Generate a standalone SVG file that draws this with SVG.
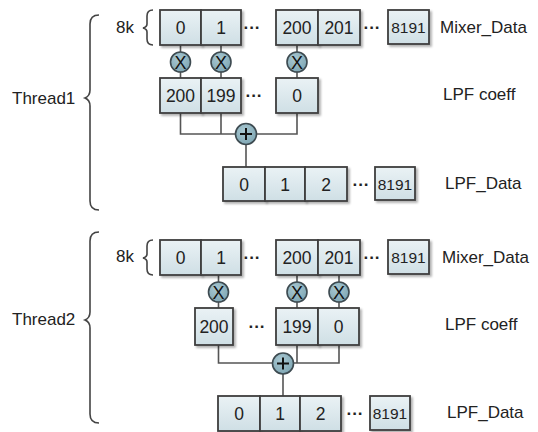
<svg xmlns="http://www.w3.org/2000/svg" width="538" height="432" viewBox="0 0 538 432">
<defs>
<linearGradient id="bg" x1="0" y1="0" x2="0" y2="1">
<stop offset="0" stop-color="#eaf2f5"/>
<stop offset="1" stop-color="#cfdfe5"/>
</linearGradient>
<radialGradient id="cg" cx="0.4" cy="0.35" r="0.7">
<stop offset="0" stop-color="#a9c8d2"/>
<stop offset="1" stop-color="#7ea6b3"/>
</radialGradient>
<filter id="sh" x="-20%" y="-20%" width="140%" height="140%">
<feDropShadow dx="2" dy="2" stdDeviation="1.2" flood-color="#000" flood-opacity="0.3"/>
</filter>
</defs>
<style>
text{font-family:"Liberation Sans",Arial,sans-serif;fill:#222}
.b{fill:url(#bg);stroke:#3f3f3f;stroke-width:1.8;filter:url(#sh)}
.n{font-size:17.5px;text-anchor:middle;dominant-baseline:central}
.s{font-size:15.5px;text-anchor:middle;dominant-baseline:central}
.l{font-size:17px;dominant-baseline:central}
.c{fill:url(#cg);stroke:#3d4a50;stroke-width:1.6}
.w{fill:none;stroke:#555;stroke-width:1.6}
.br{fill:none;stroke:#444;stroke-width:1.6}
.dot{font-size:17px;font-weight:bold;text-anchor:middle;dominant-baseline:central}
.op{font-family:"Liberation Sans",Arial,sans-serif;font-size:18px;text-anchor:middle;dominant-baseline:central;fill:#111}
</style>

<g id="connectors">
<path class="w" d="M180.5 45V78M221 45V78M297 45V78"/>
<path class="w" d="M180.5 113V134H297V113M221 113V134M246 134V167"/>
<path class="w" d="M218.5 275V308M297 275V308M339 275V308"/>
<path class="w" d="M218.5 345V363H339V345M297 345V363M283 363V396"/>
</g>

<g id="thread1-label">
<path class="br" d="M99 15Q90 15 90 24V90Q90 96 85 98Q90 100 90 106V201Q90 210 99 210"/>
<text class="l" x="12" y="98">Thread1</text>
</g>
<g id="thread1-8k">
<path class="br" d="M153 10Q147 10 147 16V24Q147 27 143 28Q147 29 147 32V39Q147 45 153 45"/>
<text class="l" x="116" y="27">8k</text>
</g>

<g id="t1-mixer">
<rect class="b" x="160" y="10" width="41" height="35"/><text class="n" x="180.5" y="28">0</text>
<rect class="b" x="201" y="10" width="40" height="35"/><text class="n" x="221" y="28">1</text>
<text class="dot" x="252" y="27">···</text>
<rect class="b" x="276" y="10" width="42" height="35"/><text class="n" x="297" y="28">200</text>
<rect class="b" x="318" y="10" width="42" height="35"/><text class="n" x="339" y="28">201</text>
<text class="dot" x="372" y="27">···</text>
<rect class="b" x="388" y="10" width="41" height="34"/><text class="s" x="408.5" y="27.5">8191</text>
<text class="l" x="440" y="27">Mixer_Data</text>
</g>

<g id="t1-mul">
<circle class="c" cx="180.5" cy="62" r="10"/><text class="op" x="180.5" y="62.5">X</text>
<circle class="c" cx="221" cy="62" r="10"/><text class="op" x="221" y="62.5">X</text>
<circle class="c" cx="297" cy="62" r="10"/><text class="op" x="297" y="62.5">X</text>
</g>

<g id="t1-coeff">
<rect class="b" x="160" y="78" width="41" height="35"/><text class="n" x="180.5" y="96">200</text>
<rect class="b" x="201" y="78" width="40" height="35"/><text class="n" x="221" y="96">199</text>
<text class="dot" x="254" y="95">···</text>
<rect class="b" x="276" y="78" width="42" height="35"/><text class="n" x="297" y="96">0</text>
<text class="l" x="443" y="94">LPF coeff</text>
</g>

<g id="t1-add">
<circle class="c" cx="246" cy="134" r="10.5"/>
<path d="M240 134H252M246 128V140" stroke="#111" stroke-width="2"/>
</g>

<g id="t1-lpf">
<rect class="b" x="223" y="167" width="42" height="34"/><text class="n" x="244" y="185">0</text>
<rect class="b" x="265" y="167" width="40" height="34"/><text class="n" x="285" y="185">1</text>
<rect class="b" x="305" y="167" width="42" height="34"/><text class="n" x="326" y="185">2</text>
<text class="dot" x="361" y="184">···</text>
<rect class="b" x="375" y="167" width="40" height="33"/><text class="s" x="395" y="184.5">8191</text>
<text class="l" x="445" y="183">LPF_Data</text>
</g>

<g id="thread2-label">
<path class="br" d="M99 232Q90 232 90 241V312Q90 318 85 320Q90 322 90 328V414Q90 423 99 423"/>
<text class="l" x="12" y="319">Thread2</text>
</g>
<g id="thread2-8k">
<path class="br" d="M153 240Q147 240 147 246V254Q147 257 143 258Q147 259 147 262V269Q147 275 153 275"/>
<text class="l" x="116" y="256">8k</text>
</g>

<g id="t2-mixer">
<rect class="b" x="160" y="240" width="41" height="35"/><text class="n" x="180.5" y="258">0</text>
<rect class="b" x="201" y="240" width="40" height="35"/><text class="n" x="221" y="258">1</text>
<text class="dot" x="252" y="257">···</text>
<rect class="b" x="276" y="240" width="42" height="35"/><text class="n" x="297" y="258">200</text>
<rect class="b" x="318" y="240" width="42" height="35"/><text class="n" x="339" y="258">201</text>
<text class="dot" x="372" y="257">···</text>
<rect class="b" x="388" y="240" width="41" height="34"/><text class="s" x="408.5" y="257.5">8191</text>
<text class="l" x="442" y="257">Mixer_Data</text>
</g>

<g id="t2-mul">
<circle class="c" cx="218.5" cy="292" r="10"/><text class="op" x="218.5" y="292.5">X</text>
<circle class="c" cx="297" cy="292" r="10"/><text class="op" x="297" y="292.5">X</text>
<circle class="c" cx="339" cy="292" r="10"/><text class="op" x="339" y="292.5">X</text>
</g>

<g id="t2-coeff">
<rect class="b" x="195" y="308" width="38" height="37"/><text class="n" x="214" y="327">200</text>
<text class="dot" x="257" y="326">···</text>
<rect class="b" x="276" y="308" width="42" height="37"/><text class="n" x="297" y="327">199</text>
<rect class="b" x="318" y="308" width="41" height="37"/><text class="n" x="338.5" y="327">0</text>
<text class="l" x="445" y="324">LPF coeff</text>
</g>

<g id="t2-add">
<circle class="c" cx="283" cy="363.5" r="10.5"/>
<path d="M277 363.5H289M283 357.5V369.5" stroke="#111" stroke-width="2"/>
</g>

<g id="t2-lpf">
<rect class="b" x="218" y="396" width="42" height="35"/><text class="n" x="239" y="414">0</text>
<rect class="b" x="260" y="396" width="40" height="35"/><text class="n" x="280" y="414">1</text>
<rect class="b" x="300" y="396" width="41" height="35"/><text class="n" x="320.5" y="414">2</text>
<text class="dot" x="355" y="413">···</text>
<rect class="b" x="370" y="396" width="40" height="34"/><text class="s" x="390" y="413.5">8191</text>
<text class="l" x="447" y="412">LPF_Data</text>
</g>
</svg>
